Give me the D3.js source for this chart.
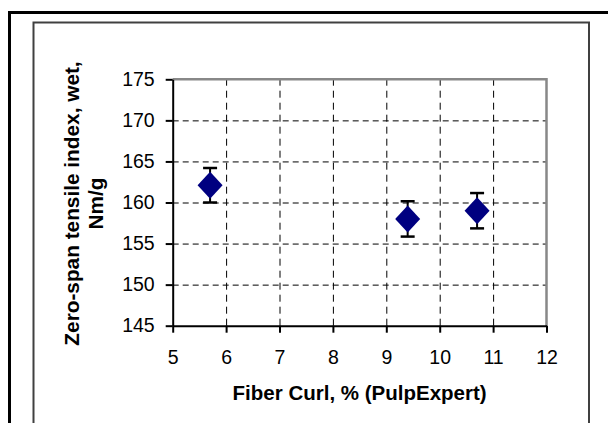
<!DOCTYPE html>
<html>
<head>
<meta charset="utf-8" />
<title>Zero-span tensile vs fiber curl</title>
<script src="https://d3js.org/d3.v7.min.js"></script>
<style>
body { margin:0; background:white; }
text { font-family: "Liberation Sans", Arial, sans-serif; fill:black; }
.axis path, .axis line { stroke:black; stroke-width:2px; }
.axis text { font-size:19.5px; }
.grid line { stroke:black; stroke-width:1px; }
.grid path { display:none; }
</style>
</head>
<body>
<div id="chart"></div>
<script>

// data
var curl = [5.7, 9.4, 10.7]
var zeroSpan = [162.1, 158.0, 159.0]
var errors = [2.1, 2.15, 2.15]

var xTicks = [5, 6, 7, 8, 9, 10, 11, 12]
var yTicks = [145, 150, 155, 160, 165, 170, 175]

var size = {width:608, height:423}
var plot = {left:172.7, right:546.5, top:79.3, bottom:325.7}

var svg = d3.select("#chart").append("svg")
	.attr("width", size.width)
	.attr("height", size.height)

// outer frame (open at right/bottom, clipped by the picture)
svg.append("path")
	.attr("d", "M9.5," + (size.height + 5) + " V12.5 H" + (size.width + 5))
	.attr("fill", "none")
	.attr("stroke", "black")
	.attr("stroke-width", 3)

// inner chart frame
svg.append("path")
	.attr("d", "M33.5," + (size.height + 5) + " V22.5 H589 V" + (size.height + 5))
	.attr("fill", "none")
	.attr("stroke", "#404040")
	.attr("stroke-width", 2)

var xScale = d3.scaleLinear()
	.domain([5, 12])
	.range([plot.left, plot.right])

var yScale = d3.scaleLinear()
	.domain([145, 175])
	.range([plot.bottom, plot.top])

//gridlines
svg.append("g")
	.attr("class", "grid")
	.attr("transform", "translate(0," + plot.bottom + ")")
	.call(d3.axisBottom(xScale).tickValues(xTicks.slice(1, -1)).tickSize(-(plot.bottom - plot.top)).tickFormat(""))
	.selectAll("line")
	.attr("stroke-dasharray", "7,5")

svg.append("g")
	.attr("class", "grid")
	.attr("transform", "translate(" + plot.left + ",0)")
	.call(d3.axisLeft(yScale).tickValues(yTicks.slice(1, -1)).tickSize(-(plot.right - plot.left)).tickFormat(""))
	.selectAll("line")
	.attr("stroke-dasharray", "6,4")

// top and right frame of the plot area
svg.append("path")
	.attr("d", "M" + plot.left + "," + plot.top + " H" + plot.right + " V" + plot.bottom)
	.attr("fill", "none")
	.attr("stroke", "#888888")
	.attr("stroke-width", 2.5)

// axes
svg.append("g")
	.attr("class", "axis")
	.attr("transform", "translate(0," + plot.bottom + ")")
	.call(d3.axisBottom(xScale).tickValues(xTicks).tickSize(7).tickSizeOuter(0).tickPadding(17).tickFormat(d3.format("d")))

svg.append("g")
	.attr("class", "axis")
	.attr("transform", "translate(" + plot.left + ",0)")
	.call(d3.axisLeft(yScale).tickValues(yTicks).tickSize(7).tickSizeOuter(0).tickPadding(11).tickFormat(d3.format("d")))

// axis titles
svg.append("text")
	.text("Fiber Curl, % (PulpExpert)")
	.attr("font-size", 20.5)
	.attr("font-weight", "bold")
	.attr("text-anchor", "middle")
	.attr("x", (plot.left + plot.right) / 2)
	.attr("y", 400)

var yTitle = svg.append("text")
	.attr("font-size", 20.8)
	.attr("font-weight", "bold")
	.attr("text-anchor", "middle")
	.attr("transform", "translate(79," + ((plot.top + plot.bottom) / 2 + 1) + ") rotate(-90)")

yTitle.append("tspan").attr("x", 0).attr("y", 0).text("Zero-span tensile index, wet,")
yTitle.append("tspan").attr("x", 0).attr("y", 24).text("Nm/g")

// points with error bars
var points = curl.map(function(d, i) { return {x:d, y:zeroSpan[i], e:errors[i]} })

var pt = svg.append("g").selectAll("g")
	.data(points)
	.enter().append("g")

pt.append("line")
	.attr("x1", function(d) { return xScale(d.x) })
	.attr("x2", function(d) { return xScale(d.x) })
	.attr("y1", function(d) { return yScale(d.y + d.e) })
	.attr("y2", function(d) { return yScale(d.y - d.e) })
	.attr("stroke", "black")
	.attr("stroke-width", 2)

pt.selectAll(".cap")
	.data(function(d) { return [d.y + d.e, d.y - d.e].map(function(v) { return {x:d.x, v:v} }) })
	.enter().append("line")
	.attr("class", "cap")
	.attr("x1", function(d) { return xScale(d.x) - 7 })
	.attr("x2", function(d) { return xScale(d.x) + 7 })
	.attr("y1", function(d) { return yScale(d.v) })
	.attr("y2", function(d) { return yScale(d.v) })
	.attr("stroke", "black")
	.attr("stroke-width", 2.5)

pt.append("path")
	.attr("transform", function(d) { return "translate(" + xScale(d.x) + "," + yScale(d.y) + ")" })
	.attr("d", "M0,-13.5 L12.5,0 L0,13.5 L-12.5,0 Z")
	.attr("fill", "#000080")

</script>
</body>
</html>
